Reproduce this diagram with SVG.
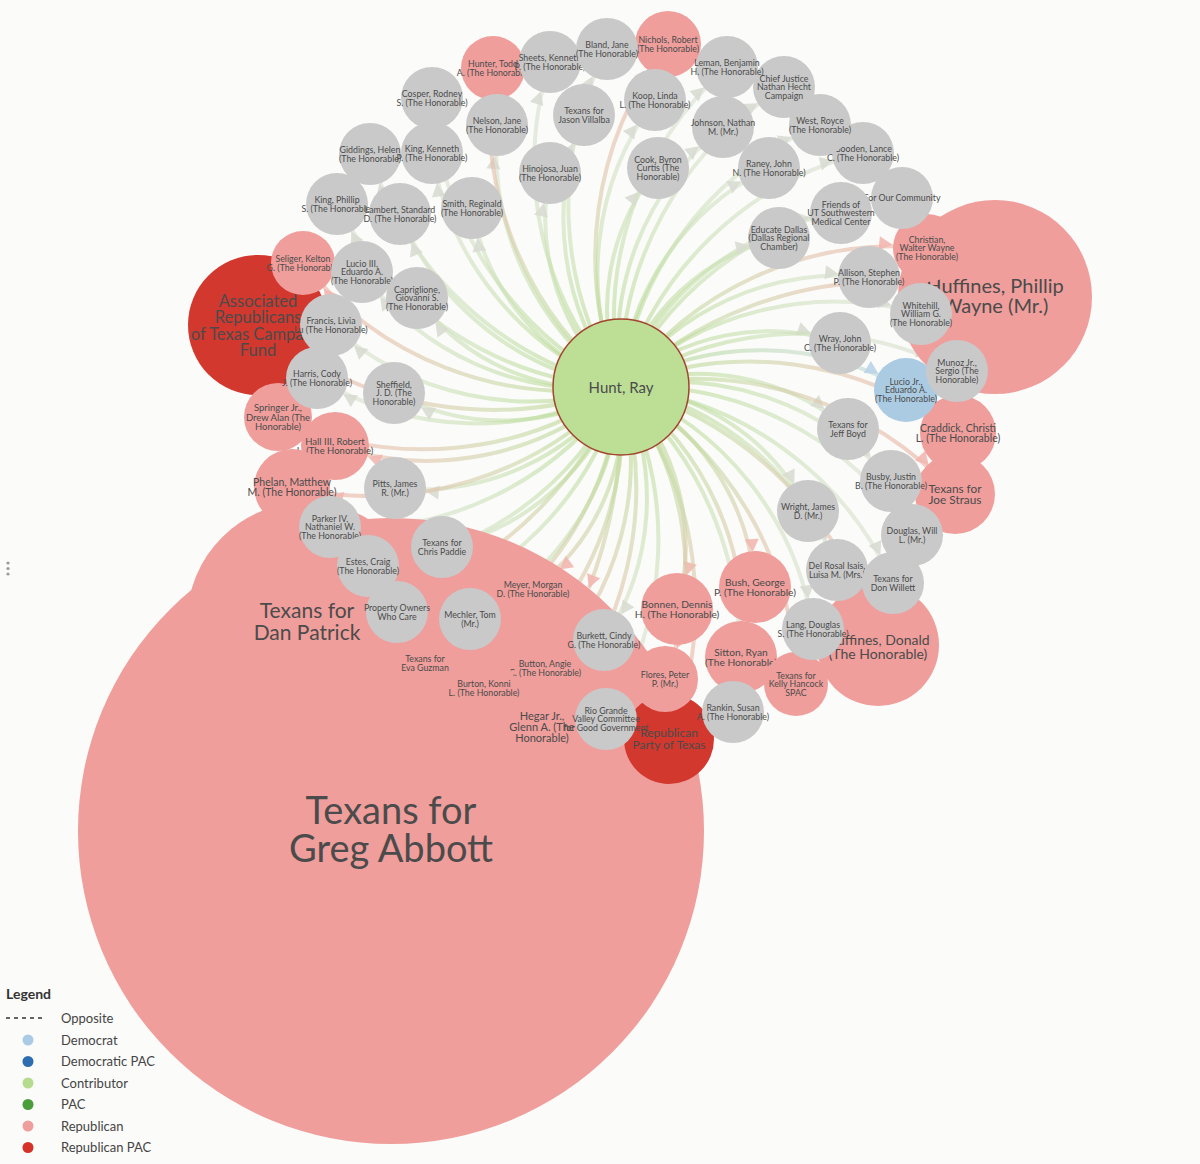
<svg xmlns="http://www.w3.org/2000/svg" width="1200" height="1164" viewBox="0 0 1200 1164">
<style>
.e{fill:none;stroke-width:4;stroke-opacity:.62}
.eg{stroke:url(#gG)}
.ep{stroke:url(#gP)}
.eb{stroke:url(#gB)}
.cg{fill:#c9c9c9}
.cp{fill:#ef9e9b}
.cr{fill:#d2382e}
.cb{fill:#abcbe2}
.hub{fill:#bcde95;stroke:#a3442c;stroke-width:1.5}
text{font-family:Lato,"Open Sans","Liberation Sans",sans-serif;fill:#4b4b4b;text-anchor:middle}
.t9{font-size:8.8px}
.t95{font-size:9.5px}
.t10{font-size:10.2px}
.t105{font-size:10.5px}
.t11{font-size:11px}
.t12{font-size:11.8px}
.lg{text-anchor:start;font-size:13px;fill:#444}
</style>
<defs>
<radialGradient id="gG" gradientUnits="userSpaceOnUse" cx="621" cy="387" r="350">
<stop offset="0" stop-color="#b3d98b"/><stop offset=".35" stop-color="#c6e0ad"/><stop offset=".7" stop-color="#d6e2cb"/><stop offset="1" stop-color="#dcdcd6"/>
</radialGradient>
<radialGradient id="gP" gradientUnits="userSpaceOnUse" cx="621" cy="387" r="350">
<stop offset="0" stop-color="#b3d98b"/><stop offset=".35" stop-color="#cad9a8"/><stop offset=".65" stop-color="#e2c3ab"/><stop offset="1" stop-color="#f0aca4"/>
</radialGradient>
<radialGradient id="gB" gradientUnits="userSpaceOnUse" cx="621" cy="387" r="350">
<stop offset="0" stop-color="#b3d98b"/><stop offset=".5" stop-color="#c4dcc6"/><stop offset="1" stop-color="#b6d3e8"/>
</radialGradient>
<marker id="mg" markerUnits="userSpaceOnUse" orient="auto" markerWidth="1" markerHeight="1" overflow="visible"><path d="M-31 0L-44 -7L-44 7Z" fill="#d8dbd1" fill-opacity=".9"/></marker>
<marker id="mp33" markerUnits="userSpaceOnUse" orient="auto" markerWidth="1" markerHeight="1" overflow="visible"><path d="M-33 0L-46 -7L-46 7Z" fill="#f2b7b0" fill-opacity=".9"/></marker>
<marker id="mp35" markerUnits="userSpaceOnUse" orient="auto" markerWidth="1" markerHeight="1" overflow="visible"><path d="M-35 0L-48 -7L-48 7Z" fill="#f2b7b0" fill-opacity=".9"/></marker>
<marker id="mp39" markerUnits="userSpaceOnUse" orient="auto" markerWidth="1" markerHeight="1" overflow="visible"><path d="M-39 0L-52 -7L-52 7Z" fill="#f2b7b0" fill-opacity=".9"/></marker>
<marker id="mp61" markerUnits="userSpaceOnUse" orient="auto" markerWidth="1" markerHeight="1" overflow="visible"><path d="M-61 0L-74 -7L-74 7Z" fill="#f2b7b0" fill-opacity=".9"/></marker>
<marker id="mp0" markerUnits="userSpaceOnUse" orient="auto" markerWidth="1" markerHeight="1" overflow="visible"><path d="M0 0L-13 -7L-13 7Z" fill="#f2b7b0" fill-opacity=".9"/></marker>
<marker id="mr45" markerUnits="userSpaceOnUse" orient="auto" markerWidth="1" markerHeight="1" overflow="visible"><path d="M-45 0L-58 -7L-58 7Z" fill="#eaa79e" fill-opacity=".9"/></marker>
<marker id="mr70" markerUnits="userSpaceOnUse" orient="auto" markerWidth="1" markerHeight="1" overflow="visible"><path d="M-70 0L-83 -7L-83 7Z" fill="#eaa79e" fill-opacity=".9"/></marker>
<marker id="mb" markerUnits="userSpaceOnUse" orient="auto" markerWidth="1" markerHeight="1" overflow="visible"><path d="M-32 0L-45 -7L-45 7Z" fill="#b9d4e8" fill-opacity=".9"/></marker>
</defs>
<rect width="1200" height="1164" fill="#fbfbf9"/>
<g id="handle" fill="#9a9a9a"><circle cx="8" cy="563" r="1.6"/><circle cx="8" cy="568.5" r="1.6"/><circle cx="8" cy="574" r="1.6"/></g>

<g id="connectors">
<path class="e eg" marker-end="url(#mg)" d="M621 387A345 345 0 0 1 432 98"/>
<path class="e eg" marker-end="url(#mg)" d="M621 387A290 290 0 0 1 497 125"/>
<path class="e eg" marker-end="url(#mg)" d="M621 387A333 333 0 0 1 550 62"/>
<path class="e eg" marker-end="url(#mg)" d="M621 387A338 338 0 0 1 607 49"/>
<path class="e eg" marker-end="url(#mg)" d="M621 387A337 337 0 0 1 727 67"/>
<path class="e eg" marker-end="url(#mg)" d="M621 387A341 341 0 0 1 784 87"/>
<path class="e eg" marker-end="url(#mg)" d="M621 387A274 274 0 0 1 584 115"/>
<path class="e eg" marker-end="url(#mg)" d="M621 387A289 289 0 0 1 655 100"/>
<path class="e eg" marker-end="url(#mg)" d="M621 387A279 279 0 0 1 723 127"/>
<path class="e eg" marker-end="url(#mg)" d="M621 387A329 329 0 0 1 820 125"/>
<path class="e eg" marker-end="url(#mg)" d="M621 387A225 225 0 0 1 550 173"/>
<path class="e eg" marker-end="url(#mg)" d="M621 387A222 222 0 0 1 658 168"/>
<path class="e eg" marker-end="url(#mg)" d="M621 387A264 264 0 0 1 769 168"/>
<path class="e eg" marker-end="url(#mg)" d="M621 387A337 337 0 0 1 863 153"/>
<path class="e eg" marker-end="url(#mg)" d="M621 387A339 339 0 0 1 902 198"/>
<path class="e eg" marker-end="url(#mg)" d="M621 387A280 280 0 0 1 841 213"/>
<path class="e eg" marker-end="url(#mg)" d="M621 387A217 217 0 0 1 779 238"/>
<path class="e eg" marker-end="url(#mg)" d="M621 387A342 342 0 0 1 370 154"/>
<path class="e eg" marker-end="url(#mg)" d="M621 387A301 301 0 0 1 432 153"/>
<path class="e eg" marker-end="url(#mg)" d="M621 387A338 338 0 0 1 337 204"/>
<path class="e eg" marker-end="url(#mg)" d="M621 387A281 281 0 0 1 400 214"/>
<path class="e eg" marker-end="url(#mg)" d="M621 387A233 233 0 0 1 472 208"/>
<path class="e eg" marker-end="url(#mg)" d="M621 387A283 283 0 0 1 362 272"/>
<path class="e eg" marker-end="url(#mg)" d="M621 387A223 223 0 0 1 417 298"/>
<path class="e eg" marker-end="url(#mg)" d="M621 387A297 297 0 0 1 331 325"/>
<path class="e eg" marker-end="url(#mg)" d="M621 387A304 304 0 0 1 317 378"/>
<path class="e eg" marker-end="url(#mg)" d="M621 387A227 227 0 0 1 394 393"/>
<path class="e eg" marker-end="url(#mg)" d="M621 387A248 248 0 0 1 395 488"/>
<path class="e eg" marker-end="url(#mg)" d="M621 387A323 323 0 0 1 330 527"/>
<path class="e eg" marker-end="url(#mg)" d="M621 387A310 310 0 0 1 368 566"/>
<path class="e eg" marker-end="url(#mg)" d="M621 387A317 317 0 0 1 397 612"/>
<path class="e eg" marker-end="url(#mg)" d="M621 387A277 277 0 0 1 470 619"/>
<path class="e eg" marker-end="url(#mg)" d="M621 387A240 240 0 0 1 442 547"/>
<path class="e eg" marker-end="url(#mg)" d="M621 387A254 254 0 0 1 604 640"/>
<path class="e eg" marker-end="url(#mg)" d="M621 387A332 332 0 0 1 606 719"/>
<path class="e eg" marker-end="url(#mg)" d="M621 387A344 344 0 0 1 733 712"/>
<path class="e eg" marker-end="url(#mg)" d="M621 387A309 309 0 0 1 813 629"/>
<path class="e eg" marker-end="url(#mg)" d="M621 387A283 283 0 0 1 837 570"/>
<path class="e eg" marker-end="url(#mg)" d="M621 387A335 335 0 0 1 893 583"/>
<path class="e eg" marker-end="url(#mg)" d="M621 387A326 326 0 0 1 912 535"/>
<path class="e eg" marker-end="url(#mg)" d="M621 387A286 286 0 0 1 891 481"/>
<path class="e eg" marker-end="url(#mg)" d="M621 387A224 224 0 0 1 808 511"/>
<path class="e eg" marker-end="url(#mg)" d="M621 387A231 231 0 0 1 848 429"/>
<path class="e eg" marker-end="url(#mg)" d="M621 387A223 223 0 0 1 840 343"/>
<path class="e eg" marker-end="url(#mg)" d="M621 387A271 271 0 0 1 869 277"/>
<path class="e eg" marker-end="url(#mg)" d="M621 387A309 309 0 0 1 921 314"/>
<path class="e eg" marker-end="url(#mg)" d="M621 387A336 336 0 0 1 957 371"/>
<path class="e ep" marker-end="url(#mp33)" d="M621 387A344 344 0 0 1 493 68"/>
<path class="e ep" marker-end="url(#mp33)" d="M621 387A346 346 0 0 1 668 44"/>
<path class="e ep" marker-end="url(#mp33)" d="M621 387A341 341 0 0 1 303 263"/>
<path class="e ep" marker-end="url(#mp35)" d="M621 387A344 344 0 0 1 278 417"/>
<path class="e ep" marker-end="url(#mp35)" d="M621 387A292 292 0 0 1 335 446"/>
<path class="e ep" marker-end="url(#mp39)" d="M621 387A344 344 0 0 1 292 487"/>
<path class="e ep" marker-end="url(#mp35)" d="M621 387A336 336 0 0 1 927 248"/>
<path class="e ep" marker-end="url(#mp39)" d="M621 387A340 340 0 0 1 958 433"/>
<path class="e ep" marker-end="url(#mp39)" d="M621 387A351 351 0 0 1 955 494"/>
<path class="e ep" marker-end="url(#mp35)" d="M621 387A229 229 0 0 1 677 609"/>
<path class="e ep" marker-end="url(#mp35)" d="M621 387A241 241 0 0 1 755 587"/>
<path class="e ep" marker-end="url(#mp35)" d="M621 387A295 295 0 0 1 741 657"/>
<path class="e ep" marker-end="url(#mp33)" d="M621 387A295 295 0 0 1 665 679"/>
<path class="e ep" marker-end="url(#mp33)" d="M621 387A345 345 0 0 1 796 684"/>
<path class="e ep" marker-end="url(#mp33)" d="M621 387A220 220 0 0 1 533 589"/>
<path class="e ep" marker-end="url(#mp33)" d="M621 387A339 339 0 0 1 425 663"/>
<path class="e ep" marker-end="url(#mp33)" d="M621 387A291 291 0 0 1 545 668"/>
<path class="e ep" marker-end="url(#mp33)" d="M621 387A331 331 0 0 1 484 688"/>
<path class="e ep" marker-end="url(#mp39)" d="M621 387A349 349 0 0 1 542 727"/>
<path class="e eb" marker-end="url(#mb)" d="M621 387A285 285 0 0 1 906 390"/>
<path class="e ep" marker-end="url(#mp61)" d="M621 387A364 364 0 0 1 878 645"/>
<path class="e ep" marker-end="url(#mr70)" d="M621 387A369 369 0 0 1 258 325"/>
<path class="e ep" marker-end="url(#mr45)" d="M621 387A355 355 0 0 1 669 739"/>
<path class="e ep" marker-end="url(#mp0)" d="M621 387A385 385 0 0 1 899 282"/>
<path class="e ep" marker-end="url(#mp0)" d="M621 387A392 392 0 0 1 423 590"/>
<path class="e ep" marker-end="url(#mp0)" d="M621 387A500 500 0 0 1 589 588"/>
</g>

<g id="nodes">
<g id="n-abbott"><circle class="cp" cx="391" cy="831" r="313"/><text style="font-size:38px" x="391" y="824"><tspan x="391">Texans for</tspan><tspan x="391" dy="38">Greg Abbott</tspan></text></g>
<g id="n-patrick"><circle class="cp" cx="307" cy="622" r="120"/><text style="font-size:21px" x="307" y="617.5"><tspan x="307">Texans for</tspan><tspan x="307" dy="22.5">Dan Patrick</tspan></text></g>
<g id="n-meyer"><circle class="cp" cx="533" cy="589" r="32"/><text class="t9" x="533" y="588"><tspan x="533">Meyer, Morgan</tspan><tspan x="533" dy="8.6">D. (The Honorable)</tspan></text></g>
<g id="n-guzman"><circle class="cp" cx="425" cy="663" r="32"/><text class="t9" x="425" y="662"><tspan x="425">Texans for</tspan><tspan x="425" dy="8.6">Eva Guzman</tspan></text></g>
<g id="n-button"><circle class="cp" cx="545" cy="668" r="32"/><text class="t9" x="545" y="667"><tspan x="545">Button, Angie</tspan><tspan x="545" dy="8.6">C. (The Honorable)</tspan></text></g>
<g id="n-burton"><circle class="cp" cx="484" cy="688" r="32"/><text class="t9" x="484" y="687"><tspan x="484">Burton, Konni</tspan><tspan x="484" dy="8.6">L. (The Honorable)</tspan></text></g>
<g id="n-hegar"><circle class="cp" cx="542" cy="727" r="38"/><text class="t11" x="542" y="720.2"><tspan x="542">Hegar Jr.,</tspan><tspan x="542" dy="11">Glenn A. (The</tspan><tspan x="542" dy="11">Honorable)</tspan></text></g>
<g id="n-huffines-p"><circle class="cp" cx="995" cy="297" r="97"/><text style="font-size:20px" x="995" y="293"><tspan x="995">Huffines, Phillip</tspan><tspan x="995" dy="20">Wayne (Mr.)</tspan></text></g>
<g id="n-huffines-d"><circle class="cp" cx="878" cy="645" r="61"/><text style="font-size:14px" x="878" y="645"><tspan x="878">Huffines, Donald</tspan><tspan x="878" dy="14">(The Honorable)</tspan></text></g>
<g id="n-artcf"><circle class="cr" cx="258" cy="325" r="70"/><text style="font-size:16.5px" x="258" y="307"><tspan x="258">Associated</tspan><tspan x="258" dy="16.3">Republicans</tspan><tspan x="258" dy="16.3">of Texas Campaign</tspan><tspan x="258" dy="16.3">Fund</tspan></text></g>
<g id="n-rpt"><circle class="cr" cx="669" cy="739" r="45"/><text style="font-size:12px" x="669" y="737"><tspan x="669">Republican</tspan><tspan x="669" dy="11.5">Party of Texas</tspan></text></g>
<g id="n-hunter"><circle class="cp" cx="493" cy="68" r="32"/><text class="t9" x="493" y="67"><tspan x="493">Hunter, Todd</tspan><tspan x="493" dy="8.6">A. (The Honorable)</tspan></text></g>
<g id="n-nichols"><circle class="cp" cx="668" cy="44" r="33"/><text class="t9" x="668" y="43"><tspan x="668">Nichols, Robert</tspan><tspan x="668" dy="8.6">(The Honorable)</tspan></text></g>
<g id="n-seliger"><circle class="cp" cx="303" cy="263" r="32"/><text class="t9" x="303" y="262"><tspan x="303">Seliger, Kelton</tspan><tspan x="303" dy="8.6">G. (The Honorable)</tspan></text></g>
<g id="n-springer"><circle class="cp" cx="278" cy="417" r="34"/><text class="t95" x="278" y="411.3"><tspan x="278">Springer Jr.,</tspan><tspan x="278" dy="9.3">Drew Alan (The</tspan><tspan x="278" dy="9.3">Honorable)</tspan></text></g>
<g id="n-hall"><circle class="cp" cx="335" cy="446" r="34"/><text class="t95" x="335" y="445"><tspan x="335">Hall III, Robert</tspan><tspan x="335" dy="9.3">L. (The Honorable)</tspan></text></g>
<g id="n-phelan"><circle class="cp" cx="292" cy="487" r="38"/><text class="t105" x="292" y="486"><tspan x="292">Phelan, Matthew</tspan><tspan x="292" dy="10.3">M. (The Honorable)</tspan></text></g>
<g id="n-christian"><circle class="cp" cx="927" cy="248" r="34"/><text class="t9" x="927" y="242.7"><tspan x="927">Christian,</tspan><tspan x="927" dy="8.6">Walter Wayne</tspan><tspan x="927" dy="8.6">(The Honorable)</tspan></text></g>
<g id="n-craddick"><circle class="cp" cx="958" cy="433" r="38"/><text class="t105" x="958" y="432"><tspan x="958">Craddick, Christi</tspan><tspan x="958" dy="10.3">L. (The Honorable)</tspan></text></g>
<g id="n-straus"><circle class="cp" cx="955" cy="494" r="40"/><text class="t12" x="955" y="492.8"><tspan x="955">Texans for</tspan><tspan x="955" dy="11.5">Joe Straus</tspan></text></g>
<g id="n-bonnen"><circle class="cp" cx="677" cy="609" r="36"/><text class="t10" x="677" y="608"><tspan x="677">Bonnen, Dennis</tspan><tspan x="677" dy="10">H. (The Honorable)</tspan></text></g>
<g id="n-bush"><circle class="cp" cx="755" cy="587" r="36"/><text class="t10" x="755" y="586"><tspan x="755">Bush, George</tspan><tspan x="755" dy="10">P. (The Honorable)</tspan></text></g>
<g id="n-sitton"><circle class="cp" cx="741" cy="657" r="36"/><text class="t10" x="741" y="656"><tspan x="741">Sitton, Ryan</tspan><tspan x="741" dy="10">(The Honorable)</tspan></text></g>
<g id="n-hancock"><circle class="cp" cx="796" cy="684" r="32"/><text class="t9" x="796" y="678.7"><tspan x="796">Texans for</tspan><tspan x="796" dy="8.6">Kelly Hancock</tspan><tspan x="796" dy="8.6">SPAC</tspan></text></g>
<g id="n-flores"><circle class="cp" cx="665" cy="679" r="33"/><text class="t9" x="665" y="678"><tspan x="665">Flores, Peter</tspan><tspan x="665" dy="8.6">P. (Mr.)</tspan></text></g>
<g id="n-lucio-jr"><circle class="cb" cx="906" cy="390" r="32"/><text class="t9" x="906" y="384.7"><tspan x="906">Lucio Jr.,</tspan><tspan x="906" dy="8.6">Eduardo A.</tspan><tspan x="906" dy="8.6">(The Honorable)</tspan></text></g>

<g id="n-cosper"><circle class="cg" cx="432" cy="98" r="31"/><text class="t9" x="432" y="97"><tspan x="432">Cosper, Rodney</tspan><tspan x="432" dy="8.6">S. (The Honorable)</tspan></text></g>
<g id="n-nelson"><circle class="cg" cx="497" cy="125" r="31"/><text class="t9" x="497" y="124"><tspan x="497">Nelson, Jane</tspan><tspan x="497" dy="8.6">(The Honorable)</tspan></text></g>
<g id="n-sheets"><circle class="cg" cx="550" cy="62" r="31"/><text class="t9" x="550" y="61"><tspan x="550">Sheets, Kenneth</tspan><tspan x="550" dy="8.6">P. (The Honorable)</tspan></text></g>
<g id="n-bland"><circle class="cg" cx="607" cy="49" r="31"/><text class="t9" x="607" y="48"><tspan x="607">Bland, Jane</tspan><tspan x="607" dy="8.6">(The Honorable)</tspan></text></g>
<g id="n-hecht"><circle class="cg" cx="784" cy="87" r="31"/><text class="t9" x="784" y="81.7"><tspan x="784">Chief Justice</tspan><tspan x="784" dy="8.6">Nathan Hecht</tspan><tspan x="784" dy="8.6">Campaign</tspan></text></g>
<g id="n-leman"><circle class="cg" cx="727" cy="67" r="31"/><text class="t9" x="727" y="66"><tspan x="727">Leman, Benjamin</tspan><tspan x="727" dy="8.6">H. (The Honorable)</tspan></text></g>
<g id="n-villalba"><circle class="cg" cx="584" cy="115" r="31"/><text class="t9" x="584" y="114"><tspan x="584">Texans for</tspan><tspan x="584" dy="8.6">Jason Villalba</tspan></text></g>
<g id="n-koop"><circle class="cg" cx="655" cy="100" r="31"/><text class="t9" x="655" y="99"><tspan x="655">Koop, Linda</tspan><tspan x="655" dy="8.6">L. (The Honorable)</tspan></text></g>
<g id="n-johnson"><circle class="cg" cx="723" cy="127" r="31"/><text class="t9" x="723" y="126"><tspan x="723">Johnson, Nathan</tspan><tspan x="723" dy="8.6">M. (Mr.)</tspan></text></g>
<g id="n-gooden"><circle class="cg" cx="863" cy="153" r="31"/><text class="t9" x="863" y="152"><tspan x="863">Gooden, Lance</tspan><tspan x="863" dy="8.6">C. (The Honorable)</tspan></text></g>
<g id="n-west"><circle class="cg" cx="820" cy="125" r="31"/><text class="t9" x="820" y="124"><tspan x="820">West, Royce</tspan><tspan x="820" dy="8.6">(The Honorable)</tspan></text></g>
<g id="n-hinojosa"><circle class="cg" cx="550" cy="173" r="31"/><text class="t9" x="550" y="172"><tspan x="550">Hinojosa, Juan</tspan><tspan x="550" dy="8.6">(The Honorable)</tspan></text></g>
<g id="n-cook"><circle class="cg" cx="658" cy="168" r="31"/><text class="t9" x="658" y="162.7"><tspan x="658">Cook, Byron</tspan><tspan x="658" dy="8.6">Curtis (The</tspan><tspan x="658" dy="8.6">Honorable)</tspan></text></g>
<g id="n-raney"><circle class="cg" cx="769" cy="168" r="31"/><text class="t9" x="769" y="167"><tspan x="769">Raney, John</tspan><tspan x="769" dy="8.6">N. (The Honorable)</tspan></text></g>
<g id="n-community"><circle class="cg" cx="902" cy="198" r="31"/><text class="t9" x="902" y="201.3">For Our Community</text></g>
<g id="n-utsw"><circle class="cg" cx="841" cy="213" r="31"/><text class="t9" x="841" y="207.7"><tspan x="841">Friends of</tspan><tspan x="841" dy="8.6">UT Southwestern</tspan><tspan x="841" dy="8.6">Medical Center</tspan></text></g>
<g id="n-educate"><circle class="cg" cx="779" cy="238" r="31"/><text class="t9" x="779" y="232.7"><tspan x="779">Educate Dallas</tspan><tspan x="779" dy="8.6">(Dallas Regional</tspan><tspan x="779" dy="8.6">Chamber)</tspan></text></g>
<g id="n-giddings"><circle class="cg" cx="370" cy="154" r="31"/><text class="t9" x="370" y="153"><tspan x="370">Giddings, Helen</tspan><tspan x="370" dy="8.6">(The Honorable)</tspan></text></g>
<g id="n-king-k"><circle class="cg" cx="432" cy="153" r="31"/><text class="t9" x="432" y="152"><tspan x="432">King, Kenneth</tspan><tspan x="432" dy="8.6">P. (The Honorable)</tspan></text></g>
<g id="n-king-p"><circle class="cg" cx="337" cy="204" r="31"/><text class="t9" x="337" y="203"><tspan x="337">King, Phillip</tspan><tspan x="337" dy="8.6">S. (The Honorable)</tspan></text></g>
<g id="n-lambert"><circle class="cg" cx="400" cy="214" r="31"/><text class="t9" x="400" y="213"><tspan x="400">Lambert, Standard</tspan><tspan x="400" dy="8.6">D. (The Honorable)</tspan></text></g>
<g id="n-smith"><circle class="cg" cx="472" cy="208" r="31"/><text class="t9" x="472" y="207"><tspan x="472">Smith, Reginald</tspan><tspan x="472" dy="8.6">(The Honorable)</tspan></text></g>
<g id="n-lucio-3"><circle class="cg" cx="362" cy="272" r="31"/><text class="t9" x="362" y="266.7"><tspan x="362">Lucio III,</tspan><tspan x="362" dy="8.6">Eduardo A.</tspan><tspan x="362" dy="8.6">(The Honorable)</tspan></text></g>
<g id="n-capriglione"><circle class="cg" cx="417" cy="298" r="31"/><text class="t9" x="417" y="292.7"><tspan x="417">Capriglione,</tspan><tspan x="417" dy="8.6">Giovanni S.</tspan><tspan x="417" dy="8.6">(The Honorable)</tspan></text></g>
<g id="n-francis"><circle class="cg" cx="331" cy="325" r="31"/><text class="t9" x="331" y="324"><tspan x="331">Francis, Livia</tspan><tspan x="331" dy="8.6">Lu (The Honorable)</tspan></text></g>
<g id="n-harris"><circle class="cg" cx="317" cy="378" r="31"/><text class="t9" x="317" y="377"><tspan x="317">Harris, Cody</tspan><tspan x="317" dy="8.6">J. (The Honorable)</tspan></text></g>
<g id="n-sheffield"><circle class="cg" cx="394" cy="393" r="31"/><text class="t9" x="394" y="387.7"><tspan x="394">Sheffield,</tspan><tspan x="394" dy="8.6">J. D. (The</tspan><tspan x="394" dy="8.6">Honorable)</tspan></text></g>
<g id="n-pitts"><circle class="cg" cx="395" cy="488" r="31"/><text class="t9" x="395" y="487"><tspan x="395">Pitts, James</tspan><tspan x="395" dy="8.6">R. (Mr.)</tspan></text></g>
<g id="n-parker"><circle class="cg" cx="330" cy="527" r="31"/><text class="t9" x="330" y="521.7"><tspan x="330">Parker IV,</tspan><tspan x="330" dy="8.6">Nathaniel W.</tspan><tspan x="330" dy="8.6">(The Honorable)</tspan></text></g>
<g id="n-estes"><circle class="cg" cx="368" cy="566" r="31"/><text class="t9" x="368" y="565"><tspan x="368">Estes, Craig</tspan><tspan x="368" dy="8.6">(The Honorable)</tspan></text></g>
<g id="n-property"><circle class="cg" cx="397" cy="612" r="31"/><text class="t9" x="397" y="611"><tspan x="397">Property Owners</tspan><tspan x="397" dy="8.6">Who Care</tspan></text></g>
<g id="n-mechler"><circle class="cg" cx="470" cy="619" r="31"/><text class="t9" x="470" y="618"><tspan x="470">Mechler, Tom</tspan><tspan x="470" dy="8.6">(Mr.)</tspan></text></g>
<g id="n-paddie"><circle class="cg" cx="442" cy="547" r="31"/><text class="t9" x="442" y="546"><tspan x="442">Texans for</tspan><tspan x="442" dy="8.6">Chris Paddie</tspan></text></g>
<g id="n-burkett"><circle class="cg" cx="604" cy="640" r="31"/><text class="t9" x="604" y="639"><tspan x="604">Burkett, Cindy</tspan><tspan x="604" dy="8.6">G. (The Honorable)</tspan></text></g>
<g id="n-riogrande"><circle class="cg" cx="606" cy="719" r="31"/><text class="t9" x="606" y="713.7"><tspan x="606">Rio Grande</tspan><tspan x="606" dy="8.6">Valley Committee</tspan><tspan x="606" dy="8.6">for Good Government</tspan></text></g>
<g id="n-rankin"><circle class="cg" cx="733" cy="712" r="31"/><text class="t9" x="733" y="711"><tspan x="733">Rankin, Susan</tspan><tspan x="733" dy="8.6">A. (The Honorable)</tspan></text></g>
<g id="n-lang"><circle class="cg" cx="813" cy="629" r="31"/><text class="t9" x="813" y="628"><tspan x="813">Lang, Douglas</tspan><tspan x="813" dy="8.6">S. (The Honorable)</tspan></text></g>
<g id="n-delrosal"><circle class="cg" cx="837" cy="570" r="31"/><text class="t9" x="837" y="569"><tspan x="837">Del Rosal Isais,</tspan><tspan x="837" dy="8.6">Luisa M. (Mrs.)</tspan></text></g>
<g id="n-willett"><circle class="cg" cx="893" cy="583" r="31"/><text class="t9" x="893" y="582"><tspan x="893">Texans for</tspan><tspan x="893" dy="8.6">Don Willett</tspan></text></g>
<g id="n-douglas"><circle class="cg" cx="912" cy="535" r="31"/><text class="t9" x="912" y="534"><tspan x="912">Douglas, Will</tspan><tspan x="912" dy="8.6">L. (Mr.)</tspan></text></g>
<g id="n-busby"><circle class="cg" cx="891" cy="481" r="31"/><text class="t9" x="891" y="480"><tspan x="891">Busby, Justin</tspan><tspan x="891" dy="8.6">B. (The Honorable)</tspan></text></g>
<g id="n-wright"><circle class="cg" cx="808" cy="511" r="31"/><text class="t9" x="808" y="510"><tspan x="808">Wright, James</tspan><tspan x="808" dy="8.6">D. (Mr.)</tspan></text></g>
<g id="n-boyd"><circle class="cg" cx="848" cy="429" r="31"/><text class="t9" x="848" y="428"><tspan x="848">Texans for</tspan><tspan x="848" dy="8.6">Jeff Boyd</tspan></text></g>
<g id="n-wray"><circle class="cg" cx="840" cy="343" r="31"/><text class="t9" x="840" y="342"><tspan x="840">Wray, John</tspan><tspan x="840" dy="8.6">C. (The Honorable)</tspan></text></g>
<g id="n-allison"><circle class="cg" cx="869" cy="277" r="31"/><text class="t9" x="869" y="276"><tspan x="869">Allison, Stephen</tspan><tspan x="869" dy="8.6">P. (The Honorable)</tspan></text></g>
<g id="n-whitehill"><circle class="cg" cx="921" cy="314" r="31"/><text class="t9" x="921" y="308.7"><tspan x="921">Whitehill,</tspan><tspan x="921" dy="8.6">William G.</tspan><tspan x="921" dy="8.6">(The Honorable)</tspan></text></g>
<g id="n-munoz"><circle class="cg" cx="957" cy="371" r="31"/><text class="t9" x="957" y="365.7"><tspan x="957">Munoz Jr.,</tspan><tspan x="957" dy="8.6">Sergio (The</tspan><tspan x="957" dy="8.6">Honorable)</tspan></text></g>

<g id="n-hunt"><circle class="hub" cx="621" cy="387" r="68"/><text style="font-size:15px" x="621" y="392.5">Hunt, Ray</text></g>
</g>

<g id="legend">
<text x="6" y="999" style="text-anchor:start;font-size:14px;font-weight:bold;fill:#333">Legend</text>
<line x1="6" y1="1018" x2="46" y2="1018" stroke="#333" stroke-width="1.3" stroke-dasharray="4 4"/>
<text class="lg" x="61" y="1022.5">Opposite</text>
<circle cx="28" cy="1040" r="5.5" fill="#a9cbe5"/><text class="lg" x="61" y="1044.5">Democrat</text>
<circle cx="28" cy="1061.5" r="5.5" fill="#2e6eb0"/><text class="lg" x="61" y="1066">Democratic PAC</text>
<circle cx="28" cy="1083" r="5.5" fill="#b5db8f"/><text class="lg" x="61" y="1087.5">Contributor</text>
<circle cx="28" cy="1104.5" r="5.5" fill="#4b9c3a"/><text class="lg" x="61" y="1109">PAC</text>
<circle cx="28" cy="1126" r="5.5" fill="#ee9e9b"/><text class="lg" x="61" y="1130.5">Republican</text>
<circle cx="28" cy="1147.5" r="5.5" fill="#d53329"/><text class="lg" x="61" y="1152">Republican PAC</text>
</g>
</svg>
